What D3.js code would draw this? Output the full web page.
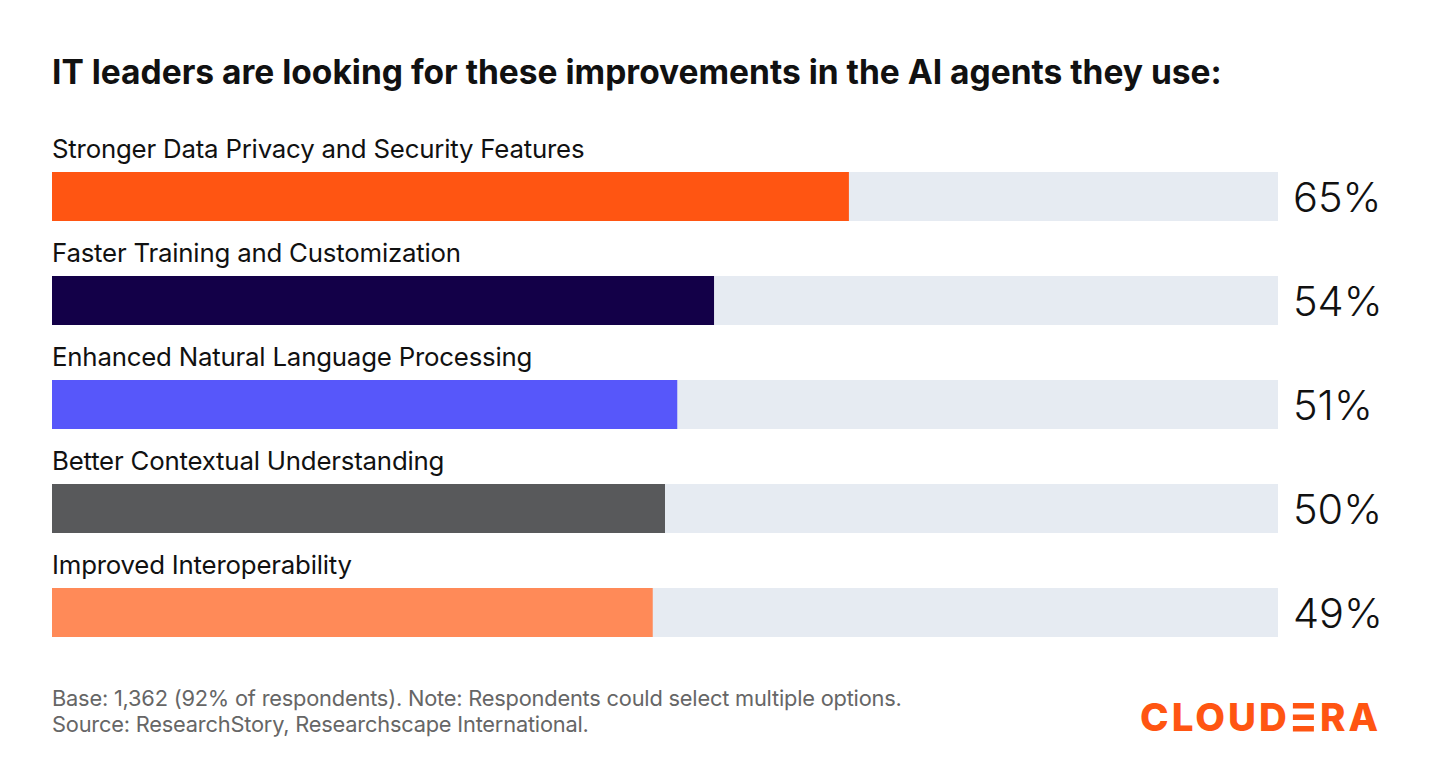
<!DOCTYPE html>
<html><head><meta charset="utf-8">
<script src="https://cdn.jsdelivr.net/npm/d3@7"></script>
<style>
html,body{margin:0;padding:0;background:#fff;}
svg{display:block;font-family:Inter,"Noto Sans",sans-serif;}
</style></head><body>
<svg id="c" width="1440" height="784"></svg>
<script>
const categories = ["Stronger Data Privacy and Security Features","Faster Training and Customization","Enhanced Natural Language Processing","Better Contextual Understanding","Improved Interoperability"];
const values = [65,54,51,50,49];
const colors = ["#FF5512","#130048","#5757FA","#58595B","#FF8A58"];
const title = "IT leaders are looking for these improvements in the AI agents they use:";
const notes = ["Base: 1,362 (92% of respondents). Note: Respondents could select multiple options.","Source: ResearchStory, Researchscape International."];

const svg = d3.select("#c");
const x = d3.scaleLinear().domain([0,100]).range([52,1278]);
const y = d3.scaleBand().domain(categories).range([120,640]).paddingInner(0).paddingOuter(0);

const fit = (sel, w) => sel.each(function(){ const n=this; const L=n.getComputedTextLength(); if(L>0){ const fs=parseFloat(n.getAttribute("font-size")); n.setAttribute("font-size", fs*w/L);} });

svg.append("text").attr("x",52).attr("y",84).attr("font-size",33).attr("font-weight",700)
  .attr("fill","#111").text(title).call(fit,1170);

const g = svg.selectAll("g.row").data(categories).join("g").attr("class","row");
g.append("text").attr("x",52).attr("y",d=>y(d)+38).attr("font-size",25.8).attr("fill","#111")
  .attr("letter-spacing",-0.2).text(d=>d);
g.append("rect").attr("x",x(0)).attr("y",d=>y(d)+52).attr("height",49).attr("width",x(100)-x(0)).attr("fill","#E6EBF2");
g.append("rect").attr("x",x(0)).attr("y",d=>y(d)+52).attr("height",49)
  .attr("width",(d,i)=>x(values[i])-x(0)).attr("fill",(d,i)=>colors[i]);
g.append("text").attr("x",1293).attr("y",d=>y(d)+92).attr("font-size",41.5).attr("font-weight",300)
  .attr("fill","#111").text((d,i)=>values[i]+"%");

svg.selectAll("text.note").data(notes).join("text").attr("class","note")
  .attr("x",52).attr("y",(d,i)=>706+i*26).attr("font-size",21.8).attr("fill","#666")
  .attr("letter-spacing",-0.2).text(d=>d);

// logo
const logo = svg.append("g").attr("fill","#FF5512").attr("font-size",38.5).attr("font-weight",800).attr("letter-spacing",3);
const t1 = logo.append("text").attr("x",1140).attr("y",731).text("CLOUD");
const w1 = t1.node().getComputedTextLength();
const ex = 1140 + w1 + 3;
[0,11.5,23].forEach(dy=>logo.append("rect").attr("x",ex).attr("y",703+dy).attr("width",21).attr("height",5.5));
logo.append("text").attr("x",ex+27).attr("y",731).text("RA");
</script>
</body></html>
